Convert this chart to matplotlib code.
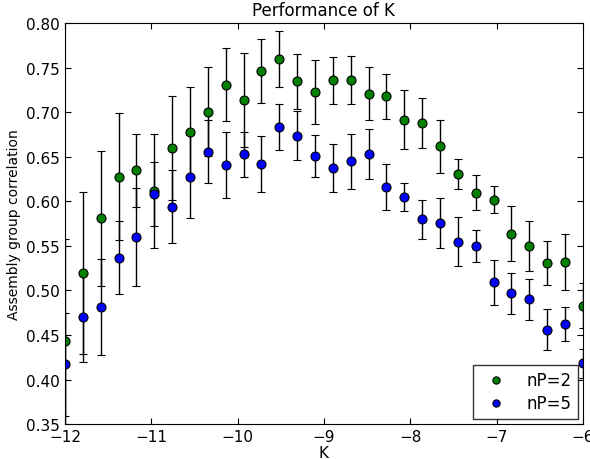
import matplotlib
matplotlib.use("Agg")
import matplotlib.pyplot as plt

# K grid (log scale values)
K = [-12.0, -11.793, -11.586, -11.379, -11.172, -10.966, -10.759, -10.552,
     -10.345, -10.138, -9.931, -9.724, -9.517, -9.310, -9.103, -8.897,
     -8.690, -8.483, -8.276, -8.069, -7.862, -7.655, -7.448, -7.241,
     -7.034, -6.828, -6.621, -6.414, -6.207, -6.0]

# nP=2 mean correlation and error
corr_np2 = [0.443, 0.520, 0.581, 0.628, 0.635, 0.612, 0.660, 0.678, 0.701, 0.731,
            0.714, 0.747, 0.760, 0.735, 0.723, 0.736, 0.736, 0.721, 0.718, 0.692,
            0.688, 0.662, 0.631, 0.610, 0.602, 0.564, 0.550, 0.531, 0.532, 0.483]
err_np2 = [0.115, 0.091, 0.076, 0.071, 0.041, 0.064, 0.058, 0.051, 0.050, 0.041,
           0.053, 0.036, 0.031, 0.031, 0.036, 0.026, 0.027, 0.030, 0.025, 0.033,
           0.028, 0.030, 0.017, 0.020, 0.015, 0.031, 0.028, 0.025, 0.031, 0.025]

# nP=5 mean correlation and error
corr_np5 = [0.417, 0.470, 0.481, 0.537, 0.560, 0.608, 0.594, 0.628, 0.656, 0.641,
            0.653, 0.642, 0.684, 0.674, 0.651, 0.638, 0.645, 0.653, 0.616, 0.605,
            0.580, 0.576, 0.555, 0.550, 0.509, 0.497, 0.490, 0.456, 0.462, 0.418]
err_np5 = [0.058, 0.050, 0.054, 0.041, 0.055, 0.036, 0.041, 0.047, 0.035, 0.037,
           0.025, 0.031, 0.026, 0.028, 0.024, 0.027, 0.031, 0.028, 0.026, 0.016,
           0.022, 0.028, 0.028, 0.018, 0.025, 0.023, 0.023, 0.023, 0.019, 0.016]

fig = plt.figure(figsize=(5.9, 4.6), dpi=100)
ax = fig.add_axes([0.110, 0.076, 0.878, 0.871])

e1 = ax.errorbar(K, corr_np2, yerr=err_np2, fmt='o', color='green', mec='black',
                 mew=0.8, ms=6.5, ecolor='black', elinewidth=1, capsize=3)
e2 = ax.errorbar(K, corr_np5, yerr=err_np5, fmt='o', color='blue', mec='black',
                 mew=0.8, ms=6.5, ecolor='black', elinewidth=1, capsize=3)

ax.set_xlim(-12, -6)
ax.set_ylim(0.35, 0.80)
ax.set_yticks([0.35, 0.40, 0.45, 0.50, 0.55, 0.60, 0.65, 0.70, 0.75, 0.80])
ax.set_xticks([-12, -11, -10, -9, -8, -7, -6])
ax.tick_params(direction='in', top=True, right=True, length=4, labelsize=11)

ax.set_title("Performance of K", fontsize=12)
ax.set_xlabel("K", fontsize=11, labelpad=1)
ax.set_ylabel("Assembly group correlation", fontsize=10)

leg = ax.legend([e1[0], e2[0]], ["nP=2", "nP=5"], loc='lower right',
                numpoints=1, fancybox=False, fontsize=12, borderaxespad=0.3,
                handletextpad=0.8, labelspacing=0.3, markerscale=0.8)
leg.get_frame().set_edgecolor('black')
leg.get_frame().set_linewidth(1)

fig.savefig("out.png", dpi=100)
